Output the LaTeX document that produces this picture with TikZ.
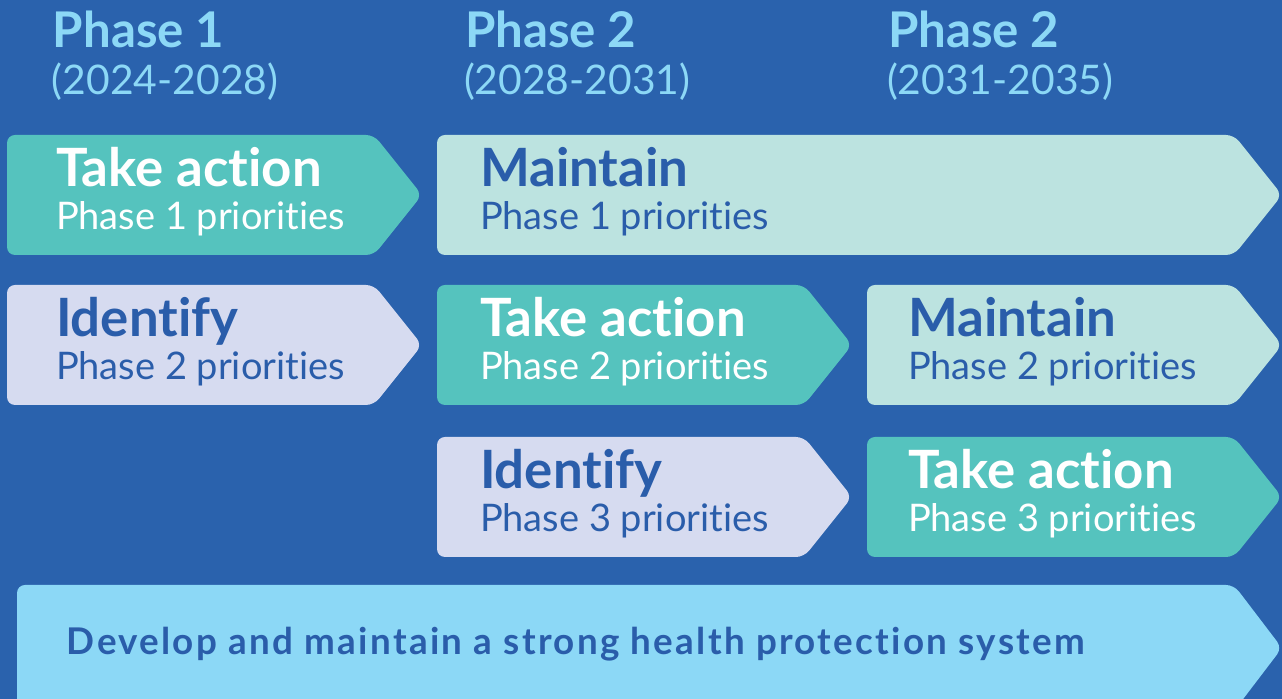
\documentclass[tikz,border=0pt]{standalone}
\usepackage{fontspec}
\setmainfont{Lato}[Ligatures={NoCommon,NoDiscretionary,NoRare}]
\definecolor{bgblue}{HTML}{2A62AD}
\definecolor{teal}{HTML}{55C3BE}
\definecolor{mint}{HTML}{BCE3E0}
\definecolor{lav}{HTML}{D6DBF0}
\definecolor{sky}{HTML}{8CD8F6}
\definecolor{ink}{HTML}{2A5DAA}
% chevron-shaped bar: fill, left, top, tip x, bottom
\newcommand\chevbar[5]{\fill[#1, rounded corners=4pt] (#2,#3) -- ({#4-48},#3) -- (#4,{(#3+#5)/2}) -- ({#4-48},#5) -- (#2,#5) -- cycle;}
\tikzset{
  txt/.style={anchor=base west, inner sep=0pt, outer sep=0pt},
  phase/.style={txt, text=sky, font=\fontsize{24.6}{28}\selectfont\bfseries},
  years/.style={txt, text=sky, font=\fontsize{20.4}{24}\selectfont},
  head/.style={txt, font=\fontsize{26.4}{30}\selectfont\bfseries},
  sub/.style={txt, font=\fontsize{19}{22}\selectfont},
}
\begin{document}
\begin{tikzpicture}[x=0.5pt, y=-0.5pt]
\useasboundingbox (0,0) rectangle (1282,699);
\clip (0,0) rectangle (1282,699);
\fill[bgblue] (0,0) rectangle (1282,699);

% phase headings
\node[phase] (p1) at (53,48) {Phase 1};
\node[years] (y1) at (52,95) {(2024-2028)};
\node[phase] (p2) at (465,48) {Phase 2};
\node[years] (y2) at (464,95) {(2028-2031)};
\node[phase] (p3) at (888,48) {Phase 2};
\node[years] (y3) at (887,95) {(2031-2035)};

% row 1
\chevbar{teal}{7}{135}{422}{255}
\chevbar{mint}{437}{135}{1282}{255}
\node[head, text=white] (a1) at (56,187) {Take action};
\node[sub, text=white] (a1s) at (56,230) {Phase 1 priorities};
\node[head, text=ink] (m1) at (480,187) {Maintain};
\node[sub, text=ink] (m1s) at (480,230) {Phase 1 priorities};

% row 2
\chevbar{lav}{7}{285}{422}{405}
\chevbar{teal}{437}{285}{852}{405}
\chevbar{mint}{867}{285}{1282}{405}
\node[head, text=ink] (i2) at (56,337) {Identify};
\node[sub, text=ink] (i2s) at (56,380) {Phase 2 priorities};
\node[head, text=white] (a2) at (480,337) {Take action};
\node[sub, text=white] (a2s) at (480,380) {Phase 2 priorities};
\node[head, text=ink] (m2) at (908,337) {Maintain};
\node[sub, text=ink] (m2s) at (908,380) {Phase 2 priorities};

% row 3
\chevbar{lav}{437}{437}{852}{557}
\chevbar{teal}{867}{437}{1282}{557}
\node[head, text=ink] (i3) at (480,489) {Identify};
\node[sub, text=ink] (i3s) at (480,532) {Phase 3 priorities};
\node[head, text=white] (a3) at (908,489) {Take action};
\node[sub, text=white] (a3s) at (908,532) {Phase 3 priorities};

% foundation bar
\chevbar{sky}{17}{585}{1282}{711}
\node[txt, text=ink, font=\fontsize{18.4}{22}\selectfont\bfseries\addfontfeature{LetterSpace=6.2}] (sys) at (67,655) {Develop and maintain a strong health protection system};
\end{tikzpicture}
\end{document}
